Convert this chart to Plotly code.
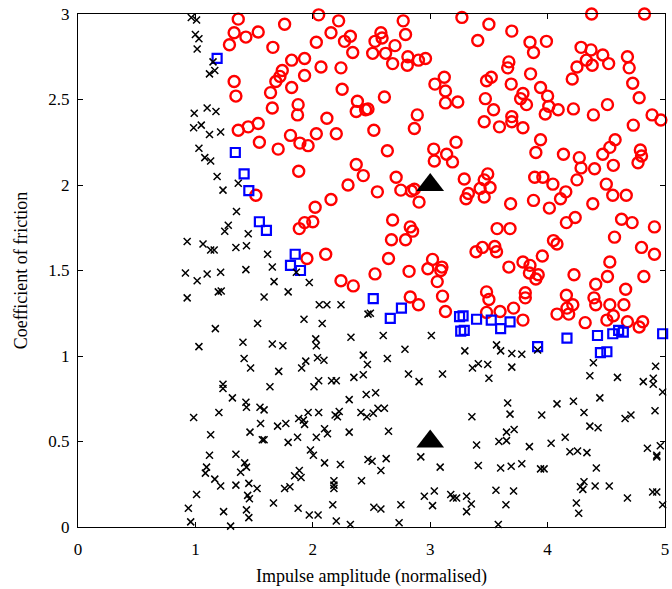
import plotly.graph_objects as go

# ---- data ----
red_x = [1.365,1.76,2.05,2.22,1.33,1.43,1.535,1.29,1.66,2.03,2.155,2.32,2.27,2.34,1.82,1.93,2.07,2.24,1.74,1.72,1.685,1.93,1.33,1.345,1.64,1.82,2.25,2.38,2.37,2.45,1.655,1.875,1.87,2.12,1.365,1.45,1.535,1.545,1.705,1.81,1.89,1.96,2.03,2.20,1.88,2.37,2.43,2.30,
         2.77,3.27,3.50,3.695,2.58,2.79,2.53,2.59,2.70,3.405,2.51,2.62,2.68,2.81,2.805,2.90,2.96,3.67,3.66,3.12,3.04,3.13,3.13,3.235,3.48,3.52,3.69,2.61,2.47,3.47,3.54,3.695,3.695,3.46,3.59,2.89,2.865,2.52,2.635,3.22,3.03,3.14,3.035,3.19,2.71,3.29,3.49,3.46,
         4.375,4.825,3.85,3.99,3.88,4.285,4.37,4.47,4.33,4.38,4.52,4.25,4.68,4.695,4.21,3.855,3.94,4.00,3.79,3.77,3.82,4.01,4.09,3.98,4.22,4.39,4.51,4.725,4.78,4.89,4.965,4.73,3.79,3.94,3.90,4.135,4.27,4.285,4.40,4.25,4.47,4.53,4.575,4.56,4.79,4.80,4.77,3.89,3.96,4.045,4.50,
         2.55,2.75,2.865,2.84,2.905,3.325,3.305,3.425,3.51,3.46,3.685,2.68,2.83,2.85,2.67,2.79,3.57,3.68,3.39,3.445,3.55,3.565,2.645,3.02,2.98,3.10,3.09,2.82,2.53,3.67,3.06,3.105,3.48,3.50,2.83,2.90,3.13,3.48,3.595,3.71,
         3.88,4.015,4.11,4.155,4.385,4.555,4.67,4.16,4.235,4.63,4.72,4.91,4.57,4.05,4.08,3.955,4.80,4.91,3.79,3.85,3.845,3.92,3.90,4.225,4.53,4.51,4.82,4.41,4.665,3.81,3.81,4.16,4.395,4.41,4.53,4.65,3.79,4.08,4.165,4.18,4.215,4.32,4.505,4.56,4.68,4.78,4.81,
         1.515,2.155,2.02,1.93,2.00,1.885,1.95,2.11,2.24,2.345]
red_y = [2.97,2.94,2.995,2.96,2.89,2.865,2.895,2.82,2.805,2.835,2.89,2.87,2.84,2.775,2.73,2.74,2.69,2.685,2.67,2.635,2.605,2.64,2.605,2.52,2.54,2.57,2.56,2.49,2.43,2.44,2.45,2.47,2.41,2.39,2.32,2.34,2.36,2.25,2.21,2.29,2.245,2.23,2.30,2.30,2.08,2.12,2.055,2.00,
         2.96,2.98,2.94,2.90,2.89,2.88,2.84,2.86,2.815,2.845,2.77,2.77,2.71,2.75,2.70,2.73,2.74,2.72,2.685,2.63,2.59,2.55,2.48,2.485,2.61,2.63,2.59,2.515,2.445,2.505,2.44,2.40,2.37,2.37,2.34,2.41,2.33,2.32,2.20,2.25,2.21,2.18,2.14,2.135,2.045,2.035,2.065,2.03,
         3.0,3.0,2.835,2.84,2.775,2.805,2.79,2.76,2.73,2.70,2.71,2.69,2.75,2.685,2.62,2.65,2.57,2.52,2.535,2.505,2.47,2.46,2.44,2.415,2.445,2.41,2.47,2.595,2.51,2.41,2.38,2.35,2.335,2.265,2.19,2.18,2.16,2.10,2.095,2.03,2.18,2.22,2.265,2.115,2.205,2.17,2.13,2.045,2.045,2.005,2.005,
         1.96,1.97,1.975,1.965,1.90,1.95,1.92,1.98,1.985,1.93,1.89,1.795,1.755,1.73,1.68,1.68,1.745,1.745,1.61,1.635,1.64,1.61,1.57,1.565,1.51,1.52,1.50,1.495,1.48,1.52,1.435,1.35,1.375,1.33,1.345,1.30,1.26,1.255,1.26,1.28,
         1.91,1.865,1.92,1.96,1.89,1.94,1.94,1.78,1.81,1.80,1.78,1.755,1.695,1.675,1.655,1.585,1.635,1.595,1.55,1.53,1.485,1.475,1.45,1.475,1.55,1.465,1.465,1.42,1.39,1.37,1.34,1.355,1.34,1.30,1.30,1.30,1.21,1.245,1.28,1.245,1.30,1.195,1.21,1.235,1.20,1.17,1.20,
         1.94,1.915,1.87,1.78,1.785,1.745,1.57,1.595,1.44,1.41]

blue_x = [1.185,1.34,1.415,1.455,1.545,1.605,1.85,1.81,1.895,2.515,2.755,2.66,3.25,3.28,3.26,3.29,3.395,3.52,3.60,3.68,3.915,4.165,4.425,4.555,4.605,4.645,4.98,4.45,4.505]
blue_y = [2.74,2.19,2.065,1.967,1.785,1.735,1.595,1.53,1.50,1.335,1.28,1.22,1.23,1.235,1.145,1.15,1.215,1.21,1.16,1.20,1.055,1.105,1.12,1.13,1.15,1.14,1.13,1.02,1.025]

black_x = [0.965,1.01,1.00,1.03,1.015,1.15,1.165,1.12,0.99,1.10,1.175,0.985,1.05,1.12,1.215,1.03,1.08,1.13,1.185,
           1.235,1.25,0.93,1.065,1.13,1.16,0.915,1.015,1.10,1.215,0.93,1.195,1.22,1.17,1.03,
           1.365,1.35,1.28,1.45,1.345,1.435,1.615,1.43,1.655,1.67,1.86,1.97,1.79,1.585,2.055,2.12,2.24,1.925,2.08,1.53,2.325,2.47,1.405,1.655,1.745,2.025,2.03,2.43,
           1.415,1.47,1.71,1.905,1.94,2.04,2.095,2.465,
           2.49,2.60,3.01,2.785,3.295,3.565,3.60,3.695,3.78,3.915,
           1.235,1.235,0.985,1.20,1.13,1.12,1.095,1.085,1.165,1.215,1.01,0.94,0.96,1.24,
           1.635,2.01,2.05,2.16,2.20,2.35,2.43,2.455,1.315,1.43,1.435,1.55,1.585,2.31,1.96,2.05,2.19,2.225,2.21,2.41,2.46,1.88,1.92,1.93,1.555,1.70,1.77,1.465,1.57,1.585,1.79,1.87,2.03,2.10,2.125,2.31,1.98,2.005,2.10,2.235,2.47,1.345,1.42,1.435,1.385,1.345,1.455,1.525,1.445,1.46,1.435,1.455,1.30,1.665,1.76,1.805,1.845,1.885,1.90,1.875,1.97,2.045,2.18,2.18,2.18,2.17,2.20,2.32,2.415,
           2.635,2.815,2.905,3.105,3.36,3.41,3.49,3.50,3.695,2.535,2.555,2.61,2.515,2.645,3.355,3.66,3.68,3.65,3.585,3.65,3.395,2.92,3.085,3.41,3.60,3.69,2.505,2.58,2.625,2.95,3.035,3.02,3.175,3.195,3.225,3.31,3.35,3.31,3.56,3.645,2.52,2.58,2.75,2.735,3.58,
           4.39,4.36,4.595,4.92,4.815,4.90,4.90,4.98,4.08,4.22,4.445,3.95,4.31,4.66,4.71,4.915,4.36,4.43,3.715,3.845,4.03,4.15,4.19,4.255,4.335,4.85,4.96,4.93,4.93,3.78,3.94,3.97,4.415,3.71,4.28,4.31,4.30,4.405,4.525,4.68,4.245,4.265,4.895,4.93,4.98]
black_y = [2.98,2.965,2.88,2.855,2.795,2.72,2.67,2.65,2.42,2.45,2.43,2.335,2.35,2.295,2.31,2.215,2.16,2.14,2.05,
           1.97,1.73,1.67,1.655,1.62,1.62,1.485,1.44,1.48,1.49,1.34,1.375,1.38,1.16,1.055,
           2.01,1.845,1.765,1.715,1.635,1.645,1.595,1.505,1.52,1.435,1.49,1.43,1.375,1.345,1.30,1.30,1.30,1.215,1.19,1.19,1.11,1.245,1.08,1.07,1.06,1.10,1.06,1.005,
           0.985,0.93,0.91,0.93,0.97,0.99,0.975,0.95,
           1.25,1.12,1.12,1.04,1.03,1.065,1.03,1.015,1.01,1.035,
           0.835,0.81,0.64,0.67,0.54,0.42,0.35,0.315,0.28,0.24,0.19,0.11,0.03,0.09,
           0.82,0.82,0.855,0.855,0.855,0.875,0.89,0.775,0.755,0.73,0.70,0.70,0.685,0.745,0.67,0.67,0.655,0.675,0.645,0.67,0.645,0.635,0.625,0.60,0.605,0.59,0.605,0.555,0.51,0.51,0.495,0.525,0.525,0.575,0.545,0.555,0.45,0.42,0.375,0.365,0.395,0.425,0.375,0.35,0.32,0.245,0.255,0.225,0.185,0.165,0.10,0.055,0.005,0.14,0.225,0.235,0.30,0.33,0.29,0.11,0.07,0.07,0.27,0.245,0.225,0.13,0.035,0.015,0.27,
           0.985,0.895,0.85,0.895,0.93,0.955,0.95,0.87,0.935,0.785,0.695,0.695,0.665,0.56,0.645,0.725,0.66,0.555,0.50,0.505,0.48,0.41,0.35,0.36,0.345,0.355,0.385,0.33,0.40,0.18,0.21,0.125,0.19,0.17,0.17,0.18,0.135,0.09,0.215,0.13,0.115,0.105,0.13,0.025,0.015,
           0.96,0.885,0.875,0.94,0.85,0.87,0.835,0.79,0.72,0.735,0.755,0.655,0.67,0.635,0.655,0.68,0.59,0.58,0.57,0.47,0.49,0.525,0.44,0.445,0.435,0.46,0.475,0.42,0.41,0.37,0.34,0.34,0.345,0.21,0.235,0.265,0.22,0.24,0.24,0.17,0.14,0.08,0.205,0.205,0.13]

tri_x = [3.0, 3.0]
tri_y = [2.0, 0.5]

x_ticks = [0, 1, 2, 3, 4, 5]
y_ticks = [0, 0.5, 1, 1.5, 2, 2.5, 3]
y_tick_text = ["0", "0.5", "1", "1.5", "2", "2.5", "3"]

fig = go.Figure()
fig.add_trace(go.Scatter(x=red_x, y=red_y, mode="markers", cliponaxis=False,
                         marker=dict(symbol="circle-open", size=11, color="#ff0000",
                                     line=dict(width=2.4, color="#ff0000"))))
fig.add_trace(go.Scatter(x=blue_x, y=blue_y, mode="markers", cliponaxis=False,
                         marker=dict(symbol="square-open", size=9, color="#0000ff",
                                     line=dict(width=2.2, color="#0000ff"))))
fig.add_trace(go.Scatter(x=black_x, y=black_y, mode="markers", cliponaxis=False,
                         marker=dict(symbol="x-thin-open", size=7, color="#000000",
                                     line=dict(width=1.5, color="#000000"))))
fig.add_trace(go.Scatter(x=tri_x, y=tri_y, mode="markers", cliponaxis=False,
                         marker=dict(symbol="triangle-up", size=24, color="#000000",
                                     line=dict(width=0))))

axis_common = dict(showgrid=False, zeroline=False, showline=True, linecolor="black",
                   linewidth=1, mirror="ticks", ticks="inside", ticklen=5,
                   tickcolor="black", automargin=False, ticklabeloverflow="allow",
                   tickfont=dict(family="Liberation Serif", size=17, color="black"))

fig.update_layout(
    width=672, height=589,
    margin=dict(l=78, r=7, t=14, b=62),
    plot_bgcolor="white", paper_bgcolor="white",
    showlegend=False,
    xaxis=dict(range=[0, 5], tickvals=x_ticks, ticktext=[str(v) for v in x_ticks],
               ticklabelstandoff=7,
               title=dict(text="Impulse amplitude (normalised)", standoff=10,
                          font=dict(family="Liberation Serif", size=18, color="black")),
               **axis_common),
    yaxis=dict(range=[0, 3], tickvals=y_ticks, ticktext=y_tick_text,
               ticklabelstandoff=4,
               title=dict(text="Coefficient of friction", standoff=16,
                          font=dict(family="Liberation Serif", size=18, color="black")),
               **axis_common),
)

fig.write_html("out.html", config={"displayModeBar": False},
               post_script="document.body.style.margin='0px';document.body.style.padding='0px';")
